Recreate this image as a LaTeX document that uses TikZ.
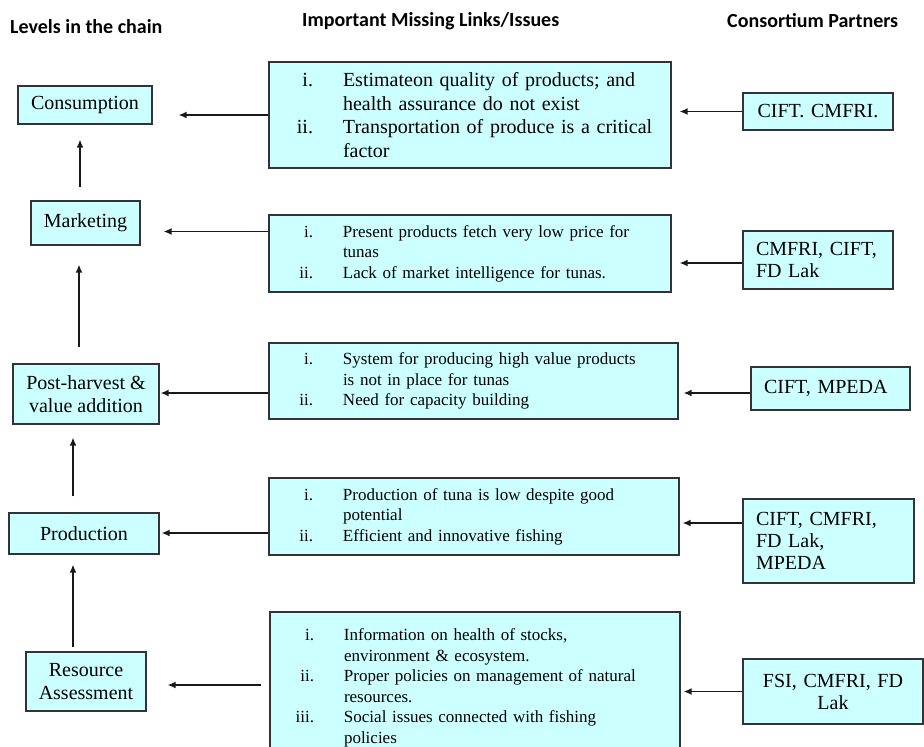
\documentclass[tikz,border=0pt]{standalone}
\usepackage{fontspec}
\setmainfont{Liberation Serif}
\newfontfamily\headfont{Carlito}
\usetikzlibrary{arrows.meta}
\definecolor{boxcyan}{HTML}{CCFFFF}
% numbered line inside an issue box
\newcommand{\lno}[1]{\makebox[44pt][r]{#1}\hspace{30pt}}

\begin{document}
\begin{tikzpicture}[x=1pt, y=-1pt,
    level/.style={draw=black!80, line width=1.3pt, fill=boxcyan, align=center, inner sep=0pt, font=\fontsize{20}{23}\selectfont},
    issue/.style={draw=black!80, line width=1.3pt, fill=boxcyan, align=left, inner xsep=0pt, inner ysep=0pt, font=\fontsize{17}{20.5}\selectfont},
    partner/.style={draw=black!80, line width=1.3pt, fill=boxcyan, inner xsep=13pt, inner ysep=0pt, font=\fontsize{20}{22}\selectfont},
    head/.style={font=\headfont\bfseries\fontsize{20}{24}\selectfont, anchor=base west, inner sep=0pt},
    flow/.style={-{Latex[length=8pt,width=7pt]}, line width=1.4pt, draw=black!90}]

    % Frame of the page
    \clip (0,0) rectangle (924,747);
    \fill[white] (0,0) rectangle (924,747);

    % Column headings
    \node[head] (hlev) at (10,33) {Levels in the chain};
    \node[head] (hiss) at (302,26) {Important Missing Links/Issues};
    \node[head] (hpar) at (727,27) {Consortium Partners};

    % Levels in the chain
    \node[level, minimum width=134pt, minimum height=38pt] (cons) at (85,105) {Consumption};
    \node[level, minimum width=109pt, minimum height=44pt] (mkt) at (85.5,223) {Marketing};
    \node[level, minimum width=146pt, minimum height=60pt] (post) at (86,394) {Post-harvest \&\\ value addition};
    \node[level, minimum width=150pt, minimum height=41pt] (prod) at (84,533.5) {Production};
    \node[level, minimum width=120pt, minimum height=59pt] (res) at (86,681.5) {Resource\\ Assessment};

    % Missing links / issues
    \node[issue, text width=402pt, minimum height=106pt, font=\fontsize{20}{23.5}\selectfont] (iss1) at (470,115)
        {\lno{i.}Estimateon quality of products; and\\ \lno{}health assurance do not exist\\
         \lno{ii.}Transportation of produce is a critical\\ \lno{}factor};
    \node[issue, text width=402pt, minimum height=77pt] (iss2) at (470,253.5)
        {\lno{i.}Present products fetch very low price for\\ \lno{}tunas\\
         \lno{ii.}Lack of market intelligence for tunas.};
    \node[issue, text width=409pt, minimum height=76pt] (iss3) at (473.5,381)
        {\lno{i.}System for producing high value products\\ \lno{}is not in place for tunas\\
         \lno{ii.}Need for capacity building};
    \node[issue, text width=410pt, minimum height=77pt] (iss4) at (474,516.5)
        {\lno{i.}Production of tuna is low despite good\\ \lno{}potential\\
         \lno{ii.}Efficient and innovative fishing};
    \node[issue, text width=410pt, minimum height=152pt] (iss5) at (475,688)
        {\lno{i.}Information on health of stocks,\\ \lno{}environment \& ecosystem.\\
         \lno{ii.}Proper policies on management of natural\\ \lno{}resources.\\
         \lno{iii.}Social issues connected with fishing\\ \lno{}policies};

    % Consortium partners
    \node[partner, text width=124pt, minimum height=37pt, align=center] (p1) at (818,111.5) {CIFT. CMFRI.};
    \node[partner, text width=124pt, minimum height=58pt, align=left] (p2) at (818,260) {CMFRI, CIFT,\\ FD Lak};
    \node[partner, text width=133pt, minimum height=43pt, align=left] (p3) at (830.5,388.5) {CIFT, MPEDA};
    \node[partner, text width=145pt, minimum height=84pt, align=left] (p4) at (828.5,541) {CIFT, CMFRI,\\ FD Lak,\\ MPEDA};
    \node[partner, text width=154pt, minimum height=65pt, align=center] (p5) at (833,691.5) {FSI, CMFRI, FD\\ Lak};

    % Up the chain
    \draw[flow, shorten <=13pt, shorten >=15pt] ([xshift=-5.5pt]mkt.north) -- ([xshift=-5.5pt]mkt.north |- cons.south);
    \draw[flow, shorten <=16pt, shorten >=19pt] ([xshift=-7pt]post.north) -- ([xshift=-7pt]post.north |- mkt.south);
    \draw[flow, shorten <=16pt, shorten >=13pt] ([xshift=-11pt]prod.north) -- ([xshift=-11pt]prod.north |- post.south);
    \draw[flow, shorten <=4pt, shorten >=10pt] ([xshift=-13pt]res.north) -- ([xshift=-13pt]res.north |- prod.south);

    % Issues to levels
    \draw[flow, shorten >=26pt] (iss1.west) -- (iss1.west -| cons.east);
    \draw[flow, shorten >=23pt] ([yshift=22pt]iss2.west) -- ([yshift=22pt]iss2.west -| mkt.east);
    \draw[flow, shorten >=1pt] ([yshift=-12pt]iss3.west) -- ([yshift=-12pt]iss3.west -| post.east);
    \draw[flow, shorten >=2pt] ([yshift=-16.5pt]iss4.west) -- ([yshift=-16.5pt]iss4.west -| prod.east);
    \draw[flow, shorten <=8pt, shorten >=21pt] ([yshift=3pt]iss5.west) -- ([yshift=3pt]iss5.west -| res.east);

    % Partners to issues
    \draw[flow, shorten >=8pt] (p1.west) -- (p1.west -| iss1.east);
    \draw[flow, shorten >=8pt] ([yshift=-3pt]p2.west) -- ([yshift=-3pt]p2.west -| iss2.east);
    \draw[flow, shorten >=5pt] ([yshift=-4.5pt]p3.west) -- ([yshift=-4.5pt]p3.west -| iss3.east);
    \draw[flow, shorten >=3pt] ([yshift=18pt]p4.west) -- ([yshift=18pt]p4.west -| iss4.east);
    \draw[flow, shorten >=3pt] (p5.west) -- (p5.west -| iss5.east);
\end{tikzpicture}
\end{document}
